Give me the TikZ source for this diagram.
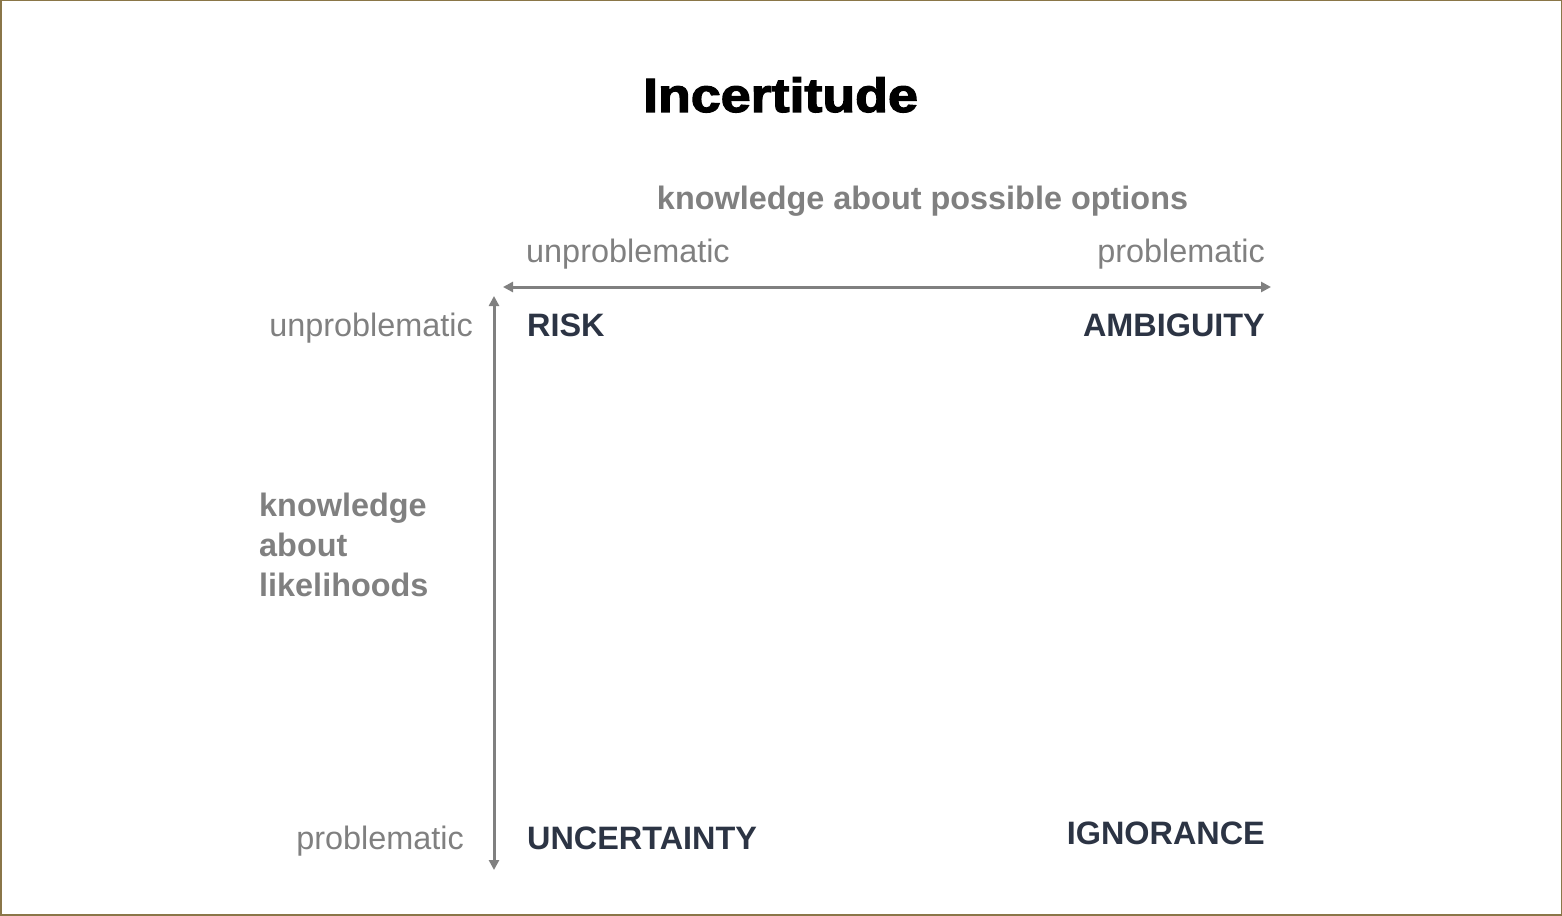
\documentclass[tikz,border=0pt]{standalone}
\usepackage{fontspec}
\setmainfont{Liberation Sans}
\newfontfamily\titlefont[BoldFeatures={FakeBold=2.5}]{Liberation Sans}
\usetikzlibrary{arrows.meta}
\definecolor{lbl}{RGB}{128,128,128}
\definecolor{quad}{RGB}{44,52,68}
\definecolor{framec}{RGB}{138,118,72}
\begin{document}
\begin{tikzpicture}[x=1pt,y=-1pt,
  lab/.style={font=\fontsize{32.4}{40}\selectfont, text=lbl, inner sep=0pt},
  labb/.style={font=\fontsize{32.4}{40}\selectfont\bfseries, text=lbl, inner sep=0pt},
  quadr/.style={font=\fontsize{32.4}{40}\selectfont\bfseries, text=quad, inner sep=0pt},
  axis/.style={draw=lbl, line width=3pt, {Triangle[length=10pt,width=10pt]}-{Triangle[length=10pt,width=10pt]}}]
\fill[white] (0,0) rectangle (1562,915);
\useasboundingbox (0,0) rectangle (1562,915);
\draw[framec, line width=3pt] (0,0) rectangle (1562,915);
% title
\node[anchor=base, inner sep=0pt, font=\titlefont\fontsize{48}{56}\selectfont\bfseries, xscale=1.12] (title) at (780.5,112) {Incertitude};
% axis title
\node[labb, anchor=base] (xaxis) at (922.5,209) {knowledge about possible options};
\node[lab, anchor=base west] (topU) at (526,262) {unproblematic};
\node[lab, anchor=base east] (topP) at (1265,262) {problematic};
% axes
\coordinate (hl) at (503,287);
\coordinate (hr) at (1271,287);
\coordinate (vt) at (494,296);
\coordinate (vb) at (494,870);
\draw[axis] (hl) -- (hr);
\draw[axis] (vt) -- (vb);
% left labels
\node[lab, anchor=base east] (leftU) at (473,336) {unproblematic};
\node[lab, anchor=base east] (leftP) at (464,849) {problematic};
\node[labb, anchor=north west, align=left] (yaxis) at (259,493) {knowledge\\about\\likelihoods};
% quadrants
\node[quadr, anchor=base west] (risk) at (527,336) {RISK};
\node[quadr, anchor=base east] (ambig) at (1265,336) {AMBIGUITY};
\node[quadr, anchor=base west] (uncert) at (527,849) {UNCERTAINTY};
\node[quadr, anchor=base east] (ignor) at (1265,844) {IGNORANCE};
\end{tikzpicture}
\end{document}
